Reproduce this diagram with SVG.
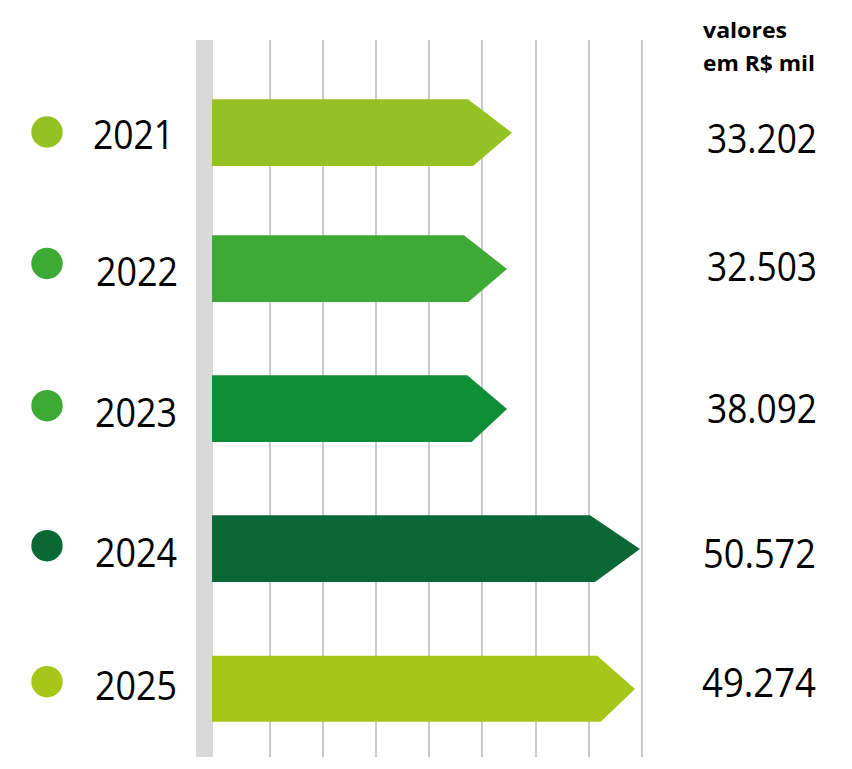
<svg xmlns="http://www.w3.org/2000/svg" width="852" height="769" viewBox="0 0 852 769">
<style>
.grid line{stroke:#b3b3b3;stroke-width:1.4}
.yr{font-family:"Open Sans","Liberation Sans",sans-serif;font-size:40px;fill:#000}
.val{font-family:"Open Sans","Liberation Sans",sans-serif;font-size:40px;fill:#000}
.hdr{font-family:"Open Sans","Liberation Sans",sans-serif;font-size:22px;font-weight:bold;fill:#000}
</style>
<rect width="852" height="769" fill="#ffffff"/>
<g id="axis">
<rect x="196" y="40" width="17" height="717" fill="#d9d9d9"/>
</g>
<g id="grid" class="grid">
<line x1="270" y1="40" x2="270" y2="757"/>
<line x1="323" y1="40" x2="323" y2="757"/>
<line x1="376" y1="40" x2="376" y2="757"/>
<line x1="429" y1="40" x2="429" y2="757"/>
<line x1="482" y1="40" x2="482" y2="757"/>
<line x1="536" y1="40" x2="536" y2="757"/>
<line x1="589" y1="40" x2="589" y2="757"/>
<line x1="642" y1="40" x2="642" y2="757"/>
</g>
<g id="header">
<text class="hdr" x="703" y="38" textLength="84" lengthAdjust="spacingAndGlyphs">valores</text>
<text class="hdr" x="703" y="71" textLength="112" lengthAdjust="spacingAndGlyphs">em R$ mil</text>
</g>
<g id="row2021">
<circle cx="47" cy="132" r="15.7" fill="#96c122"/>
<text class="yr" x="93" y="149" textLength="81" lengthAdjust="spacingAndGlyphs">2021</text>
<polygon points="212,99.3 468,99.3 512,132.7 473,166 212,166" fill="#96c122"/>
<text class="val" x="707" y="153" textLength="110" lengthAdjust="spacingAndGlyphs">33.202</text>
</g>
<g id="row2022">
<circle cx="47" cy="263.5" r="15.7" fill="#3eaa36"/>
<text class="yr" x="96" y="286" textLength="82" lengthAdjust="spacingAndGlyphs">2022</text>
<polygon points="212,235.3 464,235.3 507,269 468.3,302 212,302" fill="#3eaa36"/>
<text class="val" x="707" y="281" textLength="110" lengthAdjust="spacingAndGlyphs">32.503</text>
</g>
<g id="row2023">
<circle cx="47" cy="405.7" r="15.7" fill="#3eaa36"/>
<text class="yr" x="95" y="427" textLength="82" lengthAdjust="spacingAndGlyphs">2023</text>
<polygon points="212,375.3 467.3,375.3 507,409 471.7,442 212,442" fill="#0e8e37"/>
<text class="val" x="707" y="423" textLength="110" lengthAdjust="spacingAndGlyphs">38.092</text>
</g>
<g id="row2024">
<circle cx="47" cy="545.7" r="15.7" fill="#0a6836"/>
<text class="yr" x="95" y="567" textLength="82" lengthAdjust="spacingAndGlyphs">2024</text>
<polygon points="212,515.3 590,515.3 640,549 595,582 212,582" fill="#0a6836"/>
<text class="val" x="703" y="568" textLength="113" lengthAdjust="spacingAndGlyphs">50.572</text>
</g>
<g id="row2025">
<circle cx="47" cy="681.7" r="15.7" fill="#a6c71a"/>
<text class="yr" x="95" y="700" textLength="82" lengthAdjust="spacingAndGlyphs">2025</text>
<polygon points="212,655.7 597.3,655.7 635,689 600.7,721.7 212,721.7" fill="#a6c71a"/>
<text class="val" x="702" y="697" textLength="114" lengthAdjust="spacingAndGlyphs">49.274</text>
</g>
</svg>
